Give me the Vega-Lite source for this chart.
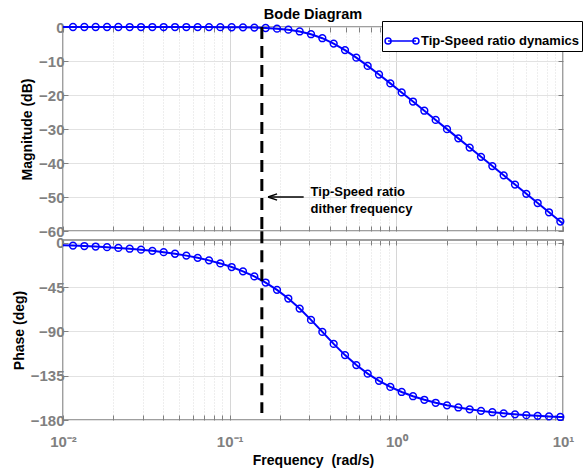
{
  "$schema": "https://vega.github.io/schema/vega-lite/v6.json",
  "background": "white",
  "padding": {"left": 11, "top": 5, "right": 0, "bottom": 0},
  "spacing": 9,
  "bounds": "flush",
  "config": {
    "font": "Liberation Sans",
    "view": {"stroke": "#808080", "strokeWidth": 1.5},
    "axis": {
      "labelFont": "Liberation Sans",
      "labelFontWeight": "bold",
      "labelFontSize": 15,
      "labelColor": "#808080",
      "titleFont": "Liberation Sans",
      "titleFontWeight": "bold",
      "titleFontSize": 14,
      "titleColor": "#000000",
      "domain": false,
      "tickColor": "#808080",
      "tickSize": -5,
      "tickWidth": 1,
      "gridColor": "#e2e2e2",
      "gridOpacity": 1,
      "gridWidth": 1,
      "labelOverlap": false,
      "labelFlush": false
    }
  },
  "datasets": {
    "bode": [
      {"f": 0.01, "mag": 0.0, "phase": -2.33, "series": "Tip-Speed ratio dynamics"},
      {"f": 0.01148, "mag": 0.0, "phase": -2.67, "series": "Tip-Speed ratio dynamics"},
      {"f": 0.01343, "mag": 0.0, "phase": -3.13, "series": "Tip-Speed ratio dynamics"},
      {"f": 0.0157, "mag": 0.0, "phase": -3.66, "series": "Tip-Speed ratio dynamics"},
      {"f": 0.01837, "mag": 0.0, "phase": -4.28, "series": "Tip-Speed ratio dynamics"},
      {"f": 0.02148, "mag": 0.0, "phase": -5.01, "series": "Tip-Speed ratio dynamics"},
      {"f": 0.02512, "mag": -0.01, "phase": -5.86, "series": "Tip-Speed ratio dynamics"},
      {"f": 0.02938, "mag": -0.01, "phase": -6.85, "series": "Tip-Speed ratio dynamics"},
      {"f": 0.03436, "mag": -0.01, "phase": -8.02, "series": "Tip-Speed ratio dynamics"},
      {"f": 0.04018, "mag": -0.01, "phase": -9.39, "series": "Tip-Speed ratio dynamics"},
      {"f": 0.04699, "mag": -0.01, "phase": -10.99, "series": "Tip-Speed ratio dynamics"},
      {"f": 0.05495, "mag": -0.01, "phase": -12.88, "series": "Tip-Speed ratio dynamics"},
      {"f": 0.06427, "mag": -0.02, "phase": -15.1, "series": "Tip-Speed ratio dynamics"},
      {"f": 0.07516, "mag": -0.03, "phase": -17.71, "series": "Tip-Speed ratio dynamics"},
      {"f": 0.0879, "mag": -0.05, "phase": -20.81, "series": "Tip-Speed ratio dynamics"},
      {"f": 0.1028, "mag": -0.07, "phase": -24.48, "series": "Tip-Speed ratio dynamics"},
      {"f": 0.1202, "mag": -0.11, "phase": -28.84, "series": "Tip-Speed ratio dynamics"},
      {"f": 0.1406, "mag": -0.18, "phase": -34.04, "series": "Tip-Speed ratio dynamics"},
      {"f": 0.1644, "mag": -0.29, "phase": -40.26, "series": "Tip-Speed ratio dynamics"},
      {"f": 0.1923, "mag": -0.48, "phase": -47.69, "series": "Tip-Speed ratio dynamics"},
      {"f": 0.2249, "mag": -0.79, "phase": -56.5, "series": "Tip-Speed ratio dynamics"},
      {"f": 0.263, "mag": -1.31, "phase": -66.73, "series": "Tip-Speed ratio dynamics"},
      {"f": 0.3076, "mag": -2.12, "phase": -78.21, "series": "Tip-Speed ratio dynamics"},
      {"f": 0.3598, "mag": -3.3, "phase": -90.43, "series": "Tip-Speed ratio dynamics"},
      {"f": 0.4207, "mag": -4.87, "phase": -102.63, "series": "Tip-Speed ratio dynamics"},
      {"f": 0.492, "mag": -6.8, "phase": -114.04, "series": "Tip-Speed ratio dynamics"},
      {"f": 0.5754, "mag": -9.02, "phase": -124.17, "series": "Tip-Speed ratio dynamics"},
      {"f": 0.673, "mag": -11.44, "phase": -132.87, "series": "Tip-Speed ratio dynamics"},
      {"f": 0.7871, "mag": -13.97, "phase": -140.21, "series": "Tip-Speed ratio dynamics"},
      {"f": 0.9205, "mag": -16.59, "phase": -146.36, "series": "Tip-Speed ratio dynamics"},
      {"f": 1.0765, "mag": -19.24, "phase": -151.5, "series": "Tip-Speed ratio dynamics"},
      {"f": 1.2589, "mag": -21.92, "phase": -155.81, "series": "Tip-Speed ratio dynamics"},
      {"f": 1.4723, "mag": -24.62, "phase": -159.43, "series": "Tip-Speed ratio dynamics"},
      {"f": 1.7219, "mag": -27.33, "phase": -162.48, "series": "Tip-Speed ratio dynamics"},
      {"f": 2.0137, "mag": -30.04, "phase": -165.07, "series": "Tip-Speed ratio dynamics"},
      {"f": 2.3551, "mag": -32.75, "phase": -167.26, "series": "Tip-Speed ratio dynamics"},
      {"f": 2.7542, "mag": -35.47, "phase": -169.13, "series": "Tip-Speed ratio dynamics"},
      {"f": 3.2211, "mag": -38.18, "phase": -170.72, "series": "Tip-Speed ratio dynamics"},
      {"f": 3.767, "mag": -40.9, "phase": -172.07, "series": "Tip-Speed ratio dynamics"},
      {"f": 4.4056, "mag": -43.62, "phase": -173.22, "series": "Tip-Speed ratio dynamics"},
      {"f": 5.1523, "mag": -46.34, "phase": -174.21, "series": "Tip-Speed ratio dynamics"},
      {"f": 6.0256, "mag": -49.06, "phase": -175.05, "series": "Tip-Speed ratio dynamics"},
      {"f": 7.0469, "mag": -51.78, "phase": -175.77, "series": "Tip-Speed ratio dynamics"},
      {"f": 8.2414, "mag": -54.5, "phase": -176.38, "series": "Tip-Speed ratio dynamics"},
      {"f": 9.6383, "mag": -57.22, "phase": -176.91, "series": "Tip-Speed ratio dynamics"},
      {"f": 10, "mag": -57.86, "phase": -177.02, "series": "Tip-Speed ratio dynamics"}
    ],
    "dither": [
      {"f": 0.156, "arrowTip": 0.17, "arrowTail": 0.278, "labelAt": 0.306, "mag": -50, "label": "Tip-Speed ratio\ndither frequency"}
    ]
  },
  "vconcat": [
    {
      "width": 500,
      "height": 204,
      "title": {"text": "Bode Diagram", "fontSize": 14.5, "fontWeight": "bold", "color": "#000000", "anchor": "middle", "offset": -2, "frame": "group"},
      "resolve": {"axis": {"x": "independent", "y": "independent"}},
      "layer": [
        {
          "data": {"name": "bode"},
          "mark": {"type": "line", "strokeWidth": 2},
          "encoding": {
            "x": {
              "field": "f", "type": "quantitative",
              "scale": {"type": "log", "domain": [0.01, 10], "nice": false},
              "axis": {
                "orient": "bottom",
                "values": [0.01,0.02,0.03,0.04,0.05,0.06,0.07,0.08,0.09,0.1,0.2,0.3,0.4,0.5,0.6,0.7,0.8,0.9,1,2,3,4,5,6,7,8,9,10],
                "labels": false,
                "title": null,
                "grid": true,
                "gridDash": {"condition": {"test": "datum.value===0.01||datum.value===0.1||datum.value===1||datum.value===10", "value": []}, "value": [1, 2]},
                "gridColor": {"condition": {"test": "datum.value===0.01||datum.value===0.1||datum.value===1||datum.value===10", "value": "#d6d6d6"}, "value": "#dcdcdc"}
              }
            },
            "y": {
              "field": "mag", "type": "quantitative",
              "scale": {"domain": [-60, 0], "nice": false, "zero": false},
              "axis": {"orient": "left", "values": [0, -10, -20, -30, -40, -50, -60], "labelOverlap": false, "title": "Magnitude (dB)", "grid": true, "labelPadding": 4, "titlePadding": 4}
            },
            "color": {
              "field": "series", "type": "nominal",
              "scale": {"range": ["#0000ff"]},
              "legend": {
                "orient": "none", "legendX": 319, "legendY": -6, "title": null,
                "strokeColor": "#000000", "fillColor": "#ffffff", "padding": 3,
                "symbolType": "M-0.87,0L0.87,0M-0.68,0A0.19,0.19,0,1,1,-1.06,0A0.19,0.19,0,1,1,-0.68,0M1.06,0A0.19,0.19,0,1,1,0.68,0A0.19,0.19,0,1,1,1.06,0",
                "symbolSize": 1024, "symbolStrokeWidth": 1.5, "symbolFillColor": "transparent", "symbolStrokeColor": "#0000ff",
                "labelFontSize": 13, "labelFontWeight": "bold", "labelColor": "#000000", "labelOffset": 2, "labelFont": "Liberation Sans"
              }
            }
          }
        },
        {
          "data": {"name": "bode"},
          "transform": [{"filter": "datum.f > 0.0105 && datum.f < 9.9"}],
          "mark": {"type": "point", "shape": "circle", "filled": false, "color": "#0000ff", "strokeWidth": 1.5, "size": 46, "opacity": 1},
          "encoding": {
            "x": {"field": "f", "type": "quantitative", "axis": {"orient": "top", "values": [0.01,0.02,0.03,0.04,0.05,0.06,0.07,0.08,0.09,0.1,0.2,0.3,0.4,0.5,0.6,0.7,0.8,0.9,1,2,3,4,5,6,7,8,9,10], "labels": false, "title": null, "grid": false}},
            "y": {"field": "mag", "type": "quantitative", "axis": {"orient": "right", "values": [0, -10, -20, -30, -40, -50, -60], "labels": false, "title": null, "grid": false}}
          }
        },
        {
          "data": {"name": "dither"},
          "mark": {"type": "rule", "color": "#000000", "strokeWidth": 3, "strokeDash": [12, 7]},
          "encoding": {
            "x": {"field": "f", "type": "quantitative", "axis": null}
          }
        },
        {
          "data": {"name": "dither"},
          "mark": {"type": "rule", "color": "#000000", "strokeWidth": 1.5},
          "encoding": {
            "x": {"field": "arrowTip", "type": "quantitative", "axis": null},
            "x2": {"field": "arrowTail"},
            "y": {"field": "mag", "type": "quantitative", "axis": null}
          }
        },
        {
          "data": {"name": "dither"},
          "mark": {"type": "point", "shape": "M0,0L2,-0.7M0,0L2,0.7", "filled": false, "color": "#000000", "strokeWidth": 1.5, "size": 81, "opacity": 1},
          "encoding": {
            "x": {"field": "arrowTip", "type": "quantitative", "axis": null},
            "y": {"field": "mag", "type": "quantitative", "axis": null}
          }
        },
        {
          "data": {"name": "dither"},
          "mark": {"type": "text", "align": "left", "baseline": "middle", "fontWeight": "bold", "fontSize": 13, "lineBreak": "\n", "lineHeight": 17, "dy": -5, "color": "#000000", "font": "Liberation Sans"},
          "encoding": {
            "x": {"field": "labelAt", "type": "quantitative", "axis": null},
            "y": {"field": "mag", "type": "quantitative", "axis": null},
            "text": {"field": "label"}
          }
        }
      ]
    },
    {
      "width": 500,
      "height": 180,
      "resolve": {"axis": {"x": "independent", "y": "independent"}},
      "layer": [
        {
          "data": {"name": "bode"},
          "mark": {"type": "line", "strokeWidth": 2, "color": "#0000ff"},
          "encoding": {
            "x": {
              "field": "f", "type": "quantitative",
              "scale": {"type": "log", "domain": [0.01, 10], "nice": false},
              "axis": {
                "orient": "bottom",
                "values": [0.01,0.02,0.03,0.04,0.05,0.06,0.07,0.08,0.09,0.1,0.2,0.3,0.4,0.5,0.6,0.7,0.8,0.9,1,2,3,4,5,6,7,8,9,10],
                "labelExpr": "datum.value===0.01?'10⁻²':datum.value===0.1?'10⁻¹':datum.value===1?'10⁰':datum.value===10?'10¹':''",
                "labelPadding": 19,
                "title": "Frequency\u00a0 (rad/s)",
                "titlePadding": 4,
                "grid": true,
                "gridDash": {"condition": {"test": "datum.value===0.01||datum.value===0.1||datum.value===1||datum.value===10", "value": []}, "value": [1, 2]},
                "gridColor": {"condition": {"test": "datum.value===0.01||datum.value===0.1||datum.value===1||datum.value===10", "value": "#d6d6d6"}, "value": "#dcdcdc"}
              }
            },
            "y": {
              "field": "phase", "type": "quantitative",
              "scale": {"domain": [-180, 3], "nice": false, "zero": false},
              "axis": {"orient": "left", "values": [0, -45, -90, -135, -180], "labelOverlap": false, "title": "Phase (deg)", "grid": true, "labelPadding": 4, "titlePadding": 4}
            }
          }
        },
        {
          "data": {"name": "bode"},
          "transform": [{"filter": "datum.f > 0.0105 && datum.f < 9.9"}],
          "mark": {"type": "point", "shape": "circle", "filled": false, "color": "#0000ff", "strokeWidth": 1.5, "size": 46, "opacity": 1},
          "encoding": {
            "x": {"field": "f", "type": "quantitative", "axis": {"orient": "top", "values": [0.01,0.02,0.03,0.04,0.05,0.06,0.07,0.08,0.09,0.1,0.2,0.3,0.4,0.5,0.6,0.7,0.8,0.9,1,2,3,4,5,6,7,8,9,10], "labels": false, "title": null, "grid": false}},
            "y": {"field": "phase", "type": "quantitative", "axis": {"orient": "right", "values": [0, -45, -90, -135, -180], "labels": false, "title": null, "grid": false}}
          }
        },
        {
          "data": {"name": "dither"},
          "mark": {"type": "rule", "color": "#000000", "strokeWidth": 3, "strokeDash": [12, 7]},
          "encoding": {
            "x": {"field": "f", "type": "quantitative", "axis": null},
            "y": {"datum": 12, "axis": null},
            "y2": {"datum": -173}
          }
        }
      ]
    }
  ]
}
